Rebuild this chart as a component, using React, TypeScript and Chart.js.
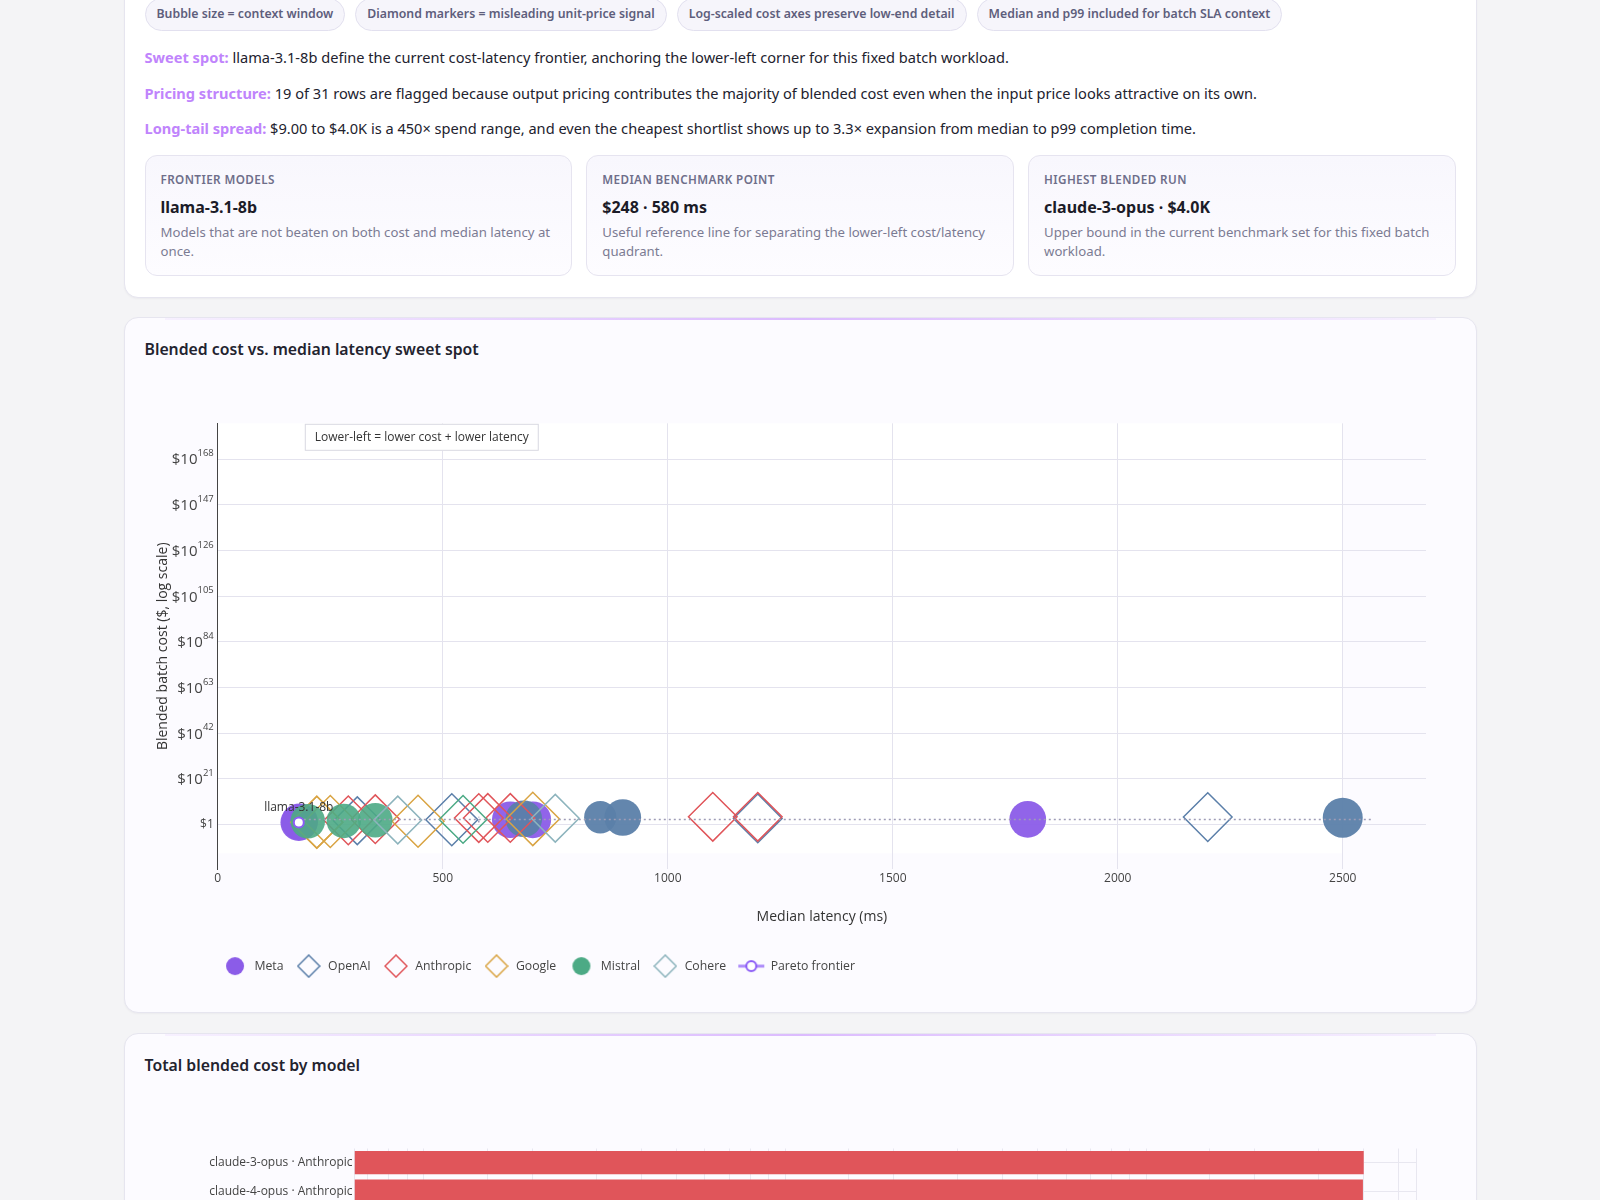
import React, { useEffect, useRef } from 'react';
import { Chart, registerables } from 'chart.js';

Chart.register(...registerables);

// ---- benchmark rows (one entry per model run) ----
const models = [
  'llama-3.1-8b', 'llama-3.2-3b', 'mistral-small', 'gemini-1.5-flash-8b', 'gemini-2.0-flash-lite',
  'gemini-1.5-flash', 'open-mistral-7b', 'claude-3-haiku', 'gpt-4o-mini', 'codestral',
  'claude-3.5-haiku', 'command-r', 'gemini-2.0-flash', 'gpt-4.1-mini', 'mistral-medium',
  'claude-3.5-sonnet', 'claude-3.7-sonnet', 'llama-3.1-70b', 'claude-sonnet-4', 'gpt-4o',
  'llama-3.3-70b', 'gemini-1.5-pro', 'command-r-plus', 'gpt-4', 'gpt-4-turbo',
  'claude-4-opus', 'claude-3-opus', 'o3-mini', 'llama-3.1-405b', 'o1', 'gpt-4.1',
];
const modelProviders = [
  'Meta', 'Meta', 'Mistral', 'Google', 'Google',
  'Google', 'Mistral', 'Anthropic', 'OpenAI', 'Mistral',
  'Anthropic', 'Cohere', 'Google', 'OpenAI', 'Mistral',
  'Anthropic', 'Anthropic', 'Meta', 'Anthropic', 'OpenAI',
  'Meta', 'Google', 'Cohere', 'OpenAI', 'OpenAI',
  'Anthropic', 'Anthropic', 'OpenAI', 'Meta', 'OpenAI', 'OpenAI',
];
const medianLatencyMs = [
  180, 182, 200, 220, 220,
  250, 280, 290, 310, 350,
  350, 400, 445, 520, 545,
  580, 600, 650, 650, 680,
  700, 700, 750, 850, 900,
  1100, 1200, 1200, 1800, 2200, 2500,
];
const blendedCostUsd = [
  9, 20, 38, 14, 12,
  27, 52, 96, 61, 110,
  320, 140, 35, 190, 248,
  1100, 1150, 180, 1200, 520,
  170, 420, 900, 2600, 1900,
  3980, 4000, 760, 290, 3000, 1500,
];
const contextWindowK = [
  128, 128, 32, 1000, 1000,
  1000, 32, 200, 128, 32,
  200, 128, 1000, 1000, 128,
  200, 200, 128, 200, 128,
  128, 2000, 128, 8, 128,
  200, 200, 200, 128, 200, 1000,
];
const misleadingUnitPrice = [
  false, false, false, true, true,
  true, false, true, true, false,
  true, true, true, true, true,
  true, true, false, true, false,
  false, true, true, false, false,
  true, true, true, false, true, false,
];

const providers = ['Meta', 'OpenAI', 'Anthropic', 'Google', 'Mistral', 'Cohere'];
const providerColors: Record<string, string> = {
  Meta: '#8b5ce8',
  OpenAI: '#5b7fa9',
  Anthropic: '#e0555a',
  Google: '#d9a443',
  Mistral: '#4caa85',
  Cohere: '#8db4bd',
};
const providerFills: Record<string, string> = {
  Meta: 'rgba(139, 92, 232, 0.95)',
  OpenAI: 'rgba(91, 127, 169, 0.95)',
  Anthropic: 'rgba(224, 85, 90, 0.9)',
  Google: 'rgba(217, 164, 67, 0.9)',
  Mistral: 'rgba(76, 170, 133, 0.9)',
  Cohere: 'rgba(141, 180, 189, 0.9)',
};

// axis tick labels / ranges
const costTickExponents = [0, 21, 42, 63, 84, 105, 126, 147, 168];
const costAxisExponents = [-20.5, 184.5];
const latencyTicks = [0, 500, 1000, 1500, 2000, 2500];
const latencyAxis = [0, 2685];

const chips = [
  'Bubble size = context window',
  'Diamond markers = misleading unit-price signal',
  'Log-scaled cost axes preserve low-end detail',
  'Median and p99 included for batch SLA context',
];
const insights = [
  { label: 'Sweet spot:', text: 'llama-3.1-8b define the current cost-latency frontier, anchoring the lower-left corner for this fixed batch workload.' },
  { label: 'Pricing structure:', text: '19 of 31 rows are flagged because output pricing contributes the majority of blended cost even when the input price looks attractive on its own.' },
  { label: 'Long-tail spread:', text: '$9.00 to $4.0K is a 450× spend range, and even the cheapest shortlist shows up to 3.3× expansion from median to p99 completion time.' },
];
const statCards = [
  { label: 'FRONTIER MODELS', value: 'llama-3.1-8b', desc: 'Models that are not beaten on both cost and median latency at once.' },
  { label: 'MEDIAN BENCHMARK POINT', value: '$248 · 580 ms', desc: 'Useful reference line for separating the lower-left cost/latency quadrant.' },
  { label: 'HIGHEST BLENDED RUN', value: 'claude-3-opus · $4.0K', desc: 'Upper bound in the current benchmark set for this fixed batch workload.' },
];
const quadrantNote = 'Lower-left = lower cost + lower latency';

type Row = { model: string; provider: string; x: number; y: number; ctxK: number; flagged: boolean };

const rows: Row[] = models.map((m, i) => ({
  model: m,
  provider: modelProviders[i],
  x: medianLatencyMs[i],
  y: blendedCostUsd[i],
  ctxK: contextWindowK[i],
  flagged: misleadingUnitPrice[i],
}));

const median = (vals: number[]) => {
  const s = [...vals].sort((a, b) => a - b);
  const m = Math.floor(s.length / 2);
  return s.length % 2 ? s[m] : (s[m - 1] + s[m]) / 2;
};

const markerRadius = (r: Row) => {
  const base = 14.5 + 0.55 * Math.log2(r.ctxK);
  return r.flagged ? base * 1.3 : base;
};

const SUP: Record<string, string> = { '0': '⁰', '1': '¹', '2': '²', '3': '³', '4': '⁴', '5': '⁵', '6': '⁶', '7': '⁷', '8': '⁸', '9': '⁹' };
const costTickLabel = (v: number) => {
  const e = Math.round(Math.log10(v));
  return e === 0 ? '$1' : '$10' + String(e).split('').map((d) => SUP[d]).join('');
};

const CHART_FONT = '"Open Sans", "Noto Sans", sans-serif';

function makeIcon(kind: 'circle' | 'diamond' | 'pareto', color: string) {
  const c = document.createElement('canvas');
  const ctx = c.getContext('2d')!;
  if (kind === 'circle') {
    c.width = 20; c.height = 20;
    ctx.fillStyle = color;
    ctx.beginPath();
    ctx.arc(10, 10, 9, 0, Math.PI * 2);
    ctx.fill();
  } else if (kind === 'diamond') {
    c.width = 24; c.height = 24;
    ctx.strokeStyle = color;
    ctx.lineWidth = 1.5;
    ctx.beginPath();
    ctx.moveTo(12, 1); ctx.lineTo(23, 12); ctx.lineTo(12, 23); ctx.lineTo(1, 12);
    ctx.closePath();
    ctx.stroke();
  } else {
    c.width = 28; c.height = 14;
    ctx.strokeStyle = 'rgba(139, 92, 246, 0.7)';
    ctx.lineWidth = 3;
    ctx.beginPath();
    ctx.moveTo(1, 7); ctx.lineTo(27, 7);
    ctx.stroke();
    ctx.fillStyle = '#fff';
    ctx.strokeStyle = color;
    ctx.lineWidth = 2;
    ctx.beginPath();
    ctx.arc(14, 7, 5, 0, Math.PI * 2);
    ctx.fill();
    ctx.stroke();
  }
  return c;
}

function SweetSpotChart() {
  const canvasRef = useRef<HTMLCanvasElement>(null);
  const chartRef = useRef<Chart | null>(null);

  useEffect(() => {
    if (!canvasRef.current) return;
    if (chartRef.current) chartRef.current.destroy();

    const frontier = rows
      .filter((r) => !rows.some((o) => o !== r && o.x <= r.x && o.y <= r.y && (o.x < r.x || o.y < r.y)))
      .sort((a, b) => a.x - b.x);
    const medLat = median(medianLatencyMs);
    const medCost = median(blendedCostUsd);
    const minLat = Math.min(...medianLatencyMs);
    const maxLat = Math.max(...medianLatencyMs);
    const minCost = Math.min(...blendedCostUsd);
    const maxCost = Math.max(...blendedCostUsd);

    const providerSets = providers.map((p, i) => ({
      label: p,
      data: rows.filter((r) => r.provider === p),
      order: 20 - i,
      showLine: false,
      pointStyle: (c: any) => (c.raw?.flagged ? 'rectRot' : 'circle'),
      pointRadius: (c: any) => (c.raw ? markerRadius(c.raw) : 0),
      pointHoverRadius: (c: any) => (c.raw ? markerRadius(c.raw) : 0),
      pointBackgroundColor: (c: any) => (c.raw?.flagged ? 'rgba(0,0,0,0)' : providerFills[p]),
      pointBorderColor: (c: any) => (c.raw?.flagged ? providerColors[p] : providerFills[p]),
      pointBorderWidth: (c: any) => (c.raw?.flagged ? 1.5 : 0),
    }));

    const legendIcons: Record<string, HTMLCanvasElement> = {};
    providers.forEach((p) => {
      const first = rows.find((r) => r.provider === p);
      legendIcons[p] = makeIcon(first && first.flagged ? 'diamond' : 'circle', providerColors[p]);
    });
    const paretoIcon = makeIcon('pareto', '#8b5cf6');

    const notes = {
      id: 'sweetSpotNotes',
      afterLayout(chart: any) {
        if (chart.legend) {
          chart.legend.left -= 8;
          chart.legend.right -= 8;
        }
      },
      beforeDraw(chart: any) {
        // white plotting panel under the data extent, drawn before grid lines
        const { ctx, chartArea } = chart;
        ctx.save();
        ctx.fillStyle = '#ffffff';
        const xr = chart.scales.x.getPixelForValue(maxLat);
        ctx.fillRect(chartArea.left, chartArea.top, xr - chartArea.left, chartArea.bottom - chartArea.top - 16);
        ctx.restore();
      },
      afterDatasetsDraw(chart: any) {
        const { ctx, chartArea, scales } = chart;
        ctx.save();
        // cost tick labels with raised exponents
        const yScale = scales.y;
        const right = chartArea.left - 4;
        ctx.fillStyle = '#444';
        ctx.textBaseline = 'middle';
        ctx.textAlign = 'right';
        yScale.ticks.forEach((t: any) => {
          const py = yScale.getPixelForValue(t.value);
          const e = Math.round(Math.log10(t.value));
          if (e === 0) {
            ctx.font = `12px ${CHART_FONT}`;
            ctx.fillText('$1', right, py);
            return;
          }
          ctx.font = `9.5px ${CHART_FONT}`;
          const expText = String(e);
          const ew = ctx.measureText(expText).width;
          ctx.fillText(expText, right, py - 5.5);
          ctx.font = `15px ${CHART_FONT}`;
          ctx.fillText('$10', right - ew, py + 1);
        });

        ctx.font = `12px ${CHART_FONT}`;
        ctx.textAlign = 'left';
        const w = ctx.measureText(quadrantNote).width + 20;
        const left = chartArea.left + 87;
        const top = chartArea.top + 0.5;
        ctx.fillStyle = '#ffffff';
        ctx.fillRect(left, top, w, 27);
        ctx.strokeStyle = '#d9d9e2';
        ctx.lineWidth = 1;
        ctx.strokeRect(left + 0.5, top + 0.5, w - 1, 26);
        ctx.fillStyle = '#333';
        ctx.textAlign = 'center';
        ctx.textBaseline = 'middle';
        ctx.fillText(quadrantNote, left + w / 2, top + 14);
        frontier.forEach((p) => {
          const px = scales.x.getPixelForValue(p.x);
          const py = scales.y.getPixelForValue(p.y);
          ctx.fillStyle = '#333';
          ctx.fillText(p.model, px, py - 15);
        });
        ctx.restore();
      },
    };

    chartRef.current = new Chart(canvasRef.current, {
      type: 'scatter',
      data: {
        datasets: [
          ...providerSets,
          {
            label: 'Median cost',
            data: [{ x: minLat, y: medCost }, { x: maxLat * 1.025, y: medCost }],
            showLine: true,
            borderColor: '#9e9cb6',
            borderWidth: 1.5,
            borderDash: [2, 3],
            pointRadius: 0,
            order: 2,
          },
          {
            label: 'Median latency',
            data: [{ x: medLat, y: minCost }, { x: medLat, y: maxCost }],
            showLine: true,
            borderColor: '#9e9cb6',
            borderWidth: 1.5,
            borderDash: [2, 3],
            pointRadius: 0,
            order: 1,
          },
          {
            label: 'Pareto frontier',
            data: frontier,
            showLine: true,
            borderColor: '#8b5cf6',
            borderWidth: 3,
            pointRadius: 5,
            pointHoverRadius: 5,
            pointStyle: 'circle',
            pointBackgroundColor: '#ffffff',
            pointBorderColor: '#8b5cf6',
            pointBorderWidth: 2,
            order: 0,
          },
        ] as any,
      },
      options: {
        responsive: true,
        maintainAspectRatio: false,
        animation: false,
        layout: { padding: { top: 50.3, right: 30, bottom: 18.75, left: 0 } },
        plugins: {
          tooltip: { enabled: false },
          legend: {
            position: 'bottom',
            align: 'start',
            fullSize: false,
            labels: {
              usePointStyle: true,
              pointStyleWidth: 26.5,
              padding: 12,
              color: '#444',
              font: { family: CHART_FONT, size: 12.25 },
              generateLabels: () => [
                ...providers.map((p, i) => ({
                  text: p,
                  pointStyle: legendIcons[p],
                  fillStyle: 'transparent',
                  strokeStyle: 'transparent',
                  lineWidth: 0,
                  hidden: false,
                  datasetIndex: i,
                  fontColor: '#444',
                })),
                {
                  text: 'Pareto frontier',
                  pointStyle: paretoIcon,
                  fillStyle: 'transparent',
                  strokeStyle: 'transparent',
                  lineWidth: 0,
                  hidden: false,
                  datasetIndex: providers.length + 2,
                  fontColor: '#444',
                },
              ] as any,
            },
          },
        },
        scales: {
          x: {
            type: 'linear',
            min: latencyAxis[0],
            max: latencyAxis[1],
            afterBuildTicks: (s: any) => {
              s.ticks = latencyTicks.map((v) => ({ value: v }));
            },
            ticks: {
              autoSkip: false,
              padding: 2.5,
              color: '#444',
              font: { family: CHART_FONT, size: 12 },
              callback: (v: any) => String(v),
            },
            grid: { color: '#e4e3ee', drawTicks: false },
            border: { display: false },
            title: {
              display: true,
              text: 'Median latency (ms)',
              color: '#333',
              font: { family: CHART_FONT, size: 14 },
              padding: { top: 0, bottom: 22.35 },
            },
            afterFit: (s: any) => { s.height = 78.75; },
          },
          y: {
            type: 'logarithmic',
            min: Math.pow(10, costAxisExponents[0]),
            max: Math.pow(10, costAxisExponents[1]),
            afterBuildTicks: (s: any) => {
              s.ticks = costTickExponents.map((e) => ({ value: Math.pow(10, e) }));
            },
            ticks: {
              display: false,
              autoSkip: false,
              callback: (v: any) => costTickLabel(Number(v)),
            },
            grid: { color: '#e4e3ee', drawTicks: false },
            border: { display: true, color: '#444', width: 1 },
            title: {
              display: true,
              text: 'Blended batch cost ($, log scale)',
              color: '#333',
              font: { family: CHART_FONT, size: 14 },
              padding: { top: 9.6, bottom: 0 },
            },
            afterFit: (s: any) => { s.width = 72.8; },
          },
        },
      },
      plugins: [notes],
    } as any);

    return () => {
      if (chartRef.current) {
        chartRef.current.destroy();
        chartRef.current = null;
      }
    };
  }, []);

  return (
    <div style={{ position: 'relative', height: 628, marginTop: 12 }}>
      <canvas ref={canvasRef} />
    </div>
  );
}

function CostBarChart() {
  const canvasRef = useRef<HTMLCanvasElement>(null);
  const chartRef = useRef<Chart | null>(null);

  useEffect(() => {
    if (!canvasRef.current) return;
    if (chartRef.current) chartRef.current.destroy();

    const sorted = [...rows].sort((a, b) => b.y - a.y);
    const minCost = Math.min(...blendedCostUsd);
    const maxCost = Math.max(...blendedCostUsd);

    chartRef.current = new Chart(canvasRef.current, {
      type: 'bar',
      data: {
        labels: sorted.map((r) => `${r.model} · ${r.provider}`),
        datasets: [
          {
            label: 'Blended cost',
            data: sorted.map((r) => r.y),
            backgroundColor: sorted.map((r) => providerColors[r.provider]),
            barPercentage: 0.82,
            categoryPercentage: 1,
          },
        ],
      },
      options: {
        indexAxis: 'y',
        responsive: true,
        maintainAspectRatio: false,
        animation: false,
        layout: { padding: { top: 59.5, right: 39.5, bottom: 0, left: 0 } },
        plugins: { legend: { display: false }, tooltip: { enabled: false } },
        scales: {
          x: {
            type: 'logarithmic',
            min: minCost / 1.4,
            max: maxCost * 1.4,
            grid: { color: '#e8e7f0', drawTicks: false },
            border: { display: false },
            ticks: {
              autoSkip: false,
              color: '#444',
              font: { family: CHART_FONT, size: 12 },
              callback: (v: any) => {
                const n = Number(v);
                const lead = n / Math.pow(10, Math.floor(Math.log10(n)));
                if (Math.abs(lead - 1) > 1e-6) return '';
                return n >= 1000 ? `$${n / 1000}K` : `$${n}`;
              },
            },
          },
          y: {
            grid: { offset: false, color: '#e8e7f0', drawTicks: false },
            border: { display: false },
            ticks: {
              autoSkip: false,
              padding: 2,
              color: '#444',
              font: { family: CHART_FONT, size: 12 },
            },
            afterFit: (s: any) => { s.width = 209.5; },
          },
        },
      },
    } as any);

    return () => {
      if (chartRef.current) {
        chartRef.current.destroy();
        chartRef.current = null;
      }
    };
  }, []);

  return (
    <div style={{ position: 'relative', height: 960, marginTop: 12 }}>
      <canvas ref={canvasRef} />
    </div>
  );
}

const cardStyle: React.CSSProperties = {
  position: 'relative',
  border: '1px solid #e6e5ef',
  borderRadius: 14,
  boxShadow: '0 1px 2px rgba(30, 30, 60, 0.04)',
  overflow: 'hidden',
};

const accentBar: React.CSSProperties = {
  position: 'absolute',
  left: 40,
  right: 40,
  top: 0,
  height: 2,
  background: 'linear-gradient(90deg, rgba(216,180,254,0.15), rgba(216,180,254,0.9) 50%, rgba(216,180,254,0.15))',
};

export default function App() {
  return (
    <div style={{ fontFamily: '"Noto Sans", "Open Sans", sans-serif', color: '#1f2030' }}>
      <style>{'html, body { margin: 0; background: #f4f4f6; }'}</style>
      <div style={{ width: 1353, margin: '0 auto', paddingBottom: 40 }}>
        <section style={{ ...cardStyle, marginTop: -23, background: '#ffffff', padding: '20px 20px 21px' }}>
          <div style={{ display: 'flex', gap: 10, flexWrap: 'wrap' }}>
            {chips.map((c) => (
              <span
                key={c}
                style={{
                  display: 'inline-block',
                  height: 30.5,
                  lineHeight: '30.5px',
                  padding: '0 11px',
                  borderRadius: 999,
                  border: '1px solid #e2e0ef',
                  background: '#f6f5fb',
                  color: '#5e5e7c',
                  fontSize: 12.3,
                  fontWeight: 600,
                  whiteSpace: 'nowrap',
                }}
              >
                {c}
              </span>
            ))}
          </div>
          <div style={{ marginTop: 15.5 }}>
            {insights.map((s, i) => (
              <p key={s.label} style={{ margin: i === 0 ? 0 : '13.5px 0 0', fontSize: 14.6, lineHeight: '22px', color: '#22222e' }}>
                <span style={{ color: '#c084fc', fontWeight: 700 }}>{s.label}</span> {s.text}
              </p>
            ))}
          </div>
          <div style={{ display: 'grid', gridTemplateColumns: 'repeat(3, 1fr)', gap: 14.3, marginTop: 16 }}>
            {statCards.map((c) => (
              <div
                key={c.label}
                style={{
                  border: '1px solid #e6e4f0',
                  borderRadius: 12,
                  background: 'linear-gradient(180deg, #f8f7fd 0%, #fdfcff 100%)',
                  padding: '14px 15px 14.5px',
                }}
              >
                <div style={{ fontSize: 11.7, lineHeight: '18px', fontWeight: 600, letterSpacing: 0.4, color: '#6e6e8a' }}>{c.label}</div>
                <div style={{ marginTop: 8, fontSize: 16, lineHeight: '22px', fontWeight: 700, color: '#1c1c28' }}>{c.value}</div>
                <div style={{ marginTop: 5, fontSize: 13.2, lineHeight: '18.5px', color: '#7b7b93' }}>{c.desc}</div>
              </div>
            ))}
          </div>
        </section>

        <section style={{ ...cardStyle, marginTop: 19, background: '#fcfbff', padding: '19px 20px 11px' }}>
          <div style={accentBar} />
          <h3 style={{ margin: 0, fontSize: 15.8, lineHeight: '24px', fontWeight: 600, color: '#23232f' }}>
            Blended cost vs. median latency sweet spot
          </h3>
          <SweetSpotChart />
        </section>

        <section style={{ ...cardStyle, marginTop: 20, background: '#fcfbff', padding: '19px 20px 11px' }}>
          <div style={accentBar} />
          <h3 style={{ margin: 0, fontSize: 15.8, lineHeight: '24px', fontWeight: 600, color: '#23232f' }}>
            Total blended cost by model
          </h3>
          <CostBarChart />
        </section>
      </div>
    </div>
  );
}
